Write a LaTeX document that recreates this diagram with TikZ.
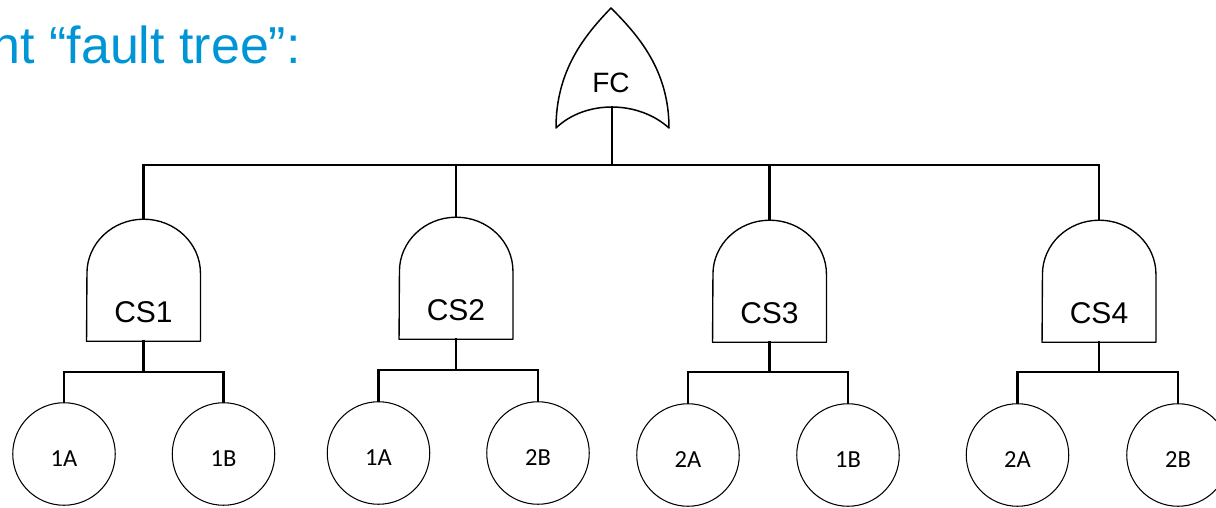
\documentclass[tikz,border=0pt]{standalone}
\usepackage{fontspec}
\setmainfont{Liberation Sans}
\newfontfamily\eventfont{Carlito}
\definecolor{titleblue}{RGB}{0,150,214}
\begin{document}
\begin{tikzpicture}[x=1pt,y=1pt,
  wire/.style={line width=2.2pt,line cap=rect},
  gateline/.style={line width=1.35pt,line join=round},
  gatebox/.style={inner sep=0pt,minimum width=113.5pt,minimum height=122pt},
  gatelabel/.style={inner sep=0pt,font=\fontsize{30}{36}\selectfont},
  event/.style={circle,draw,line width=1.05pt,inner sep=0pt,minimum size=102.5pt,
    text height=24.5pt,font=\eventfont\fontsize{24.5}{29}\selectfont}]
\useasboundingbox (0,0) rectangle (1216,-507);

% heading
\node[anchor=base east,inner sep=0pt,text=titleblue,font=\fontsize{52}{60}\selectfont]
  (title) at (301,-63) {nt “fault tree”:};

% top OR gate
\coordinate (fcb) at (612,-107);
\draw[gateline,line width=1.5pt] (556,-128) .. controls (556,-70) and (585,-35) .. (611,-8)
  .. controls (638,-35) and (669,-70) .. (669,-128)
  .. controls (638,-100) and (585,-100) .. (556,-128) -- cycle;
\node[inner sep=0pt,font=\fontsize{28}{34}\selectfont] (fc) at (611,-83) {FC};

% AND gates with their basic events
\foreach \g/\gx/\gy/\by/\cy/\ax/\at/\bx/\bt in {
  1/143.5/280/372/454/64/1A/223.5/1B,
  2/456/278/370/453/378.5/1A/538/2B,
  3/769.5/281/372/455/688/2A/848/1B,
  4/1099/281/372/455/1017.5/2A/1178/2B}{
  \node[gatebox] (cs\g) at (\gx,-\gy) {};
  \draw[gateline] (cs\g.south west) -- (cs\g.south east) -- ++(0,68)
    arc[start angle=0,end angle=180,x radius=56.75pt,y radius=54pt] -- cycle;
  \node[gatelabel] (cs\g t) at ([yshift=29pt]cs\g.south) {CS\g};
  \node[event] (a\g) at (\ax,-\cy) {\at};
  \node[event] (b\g) at (\bx,-\cy) {\bt};
  \coordinate (j\g) at (\gx,-\by);
  \draw[wire] (cs\g.south) -- (j\g);
  \draw[wire] (a\g.north) |- (j\g) -| (b\g.north);
}

% bus from the OR gate to the four AND gates
\coordinate (bus) at (0,-165);
\draw[wire] (fcb) -- (fcb |- bus);
\draw[wire] (cs1.north) -- (cs1.north |- bus) -- (cs4.north |- bus) -- (cs4.north);
\draw[wire] (cs2.north) -- (cs2.north |- bus);
\draw[wire] (cs3.north) -- (cs3.north |- bus);
\end{tikzpicture}
\end{document}
